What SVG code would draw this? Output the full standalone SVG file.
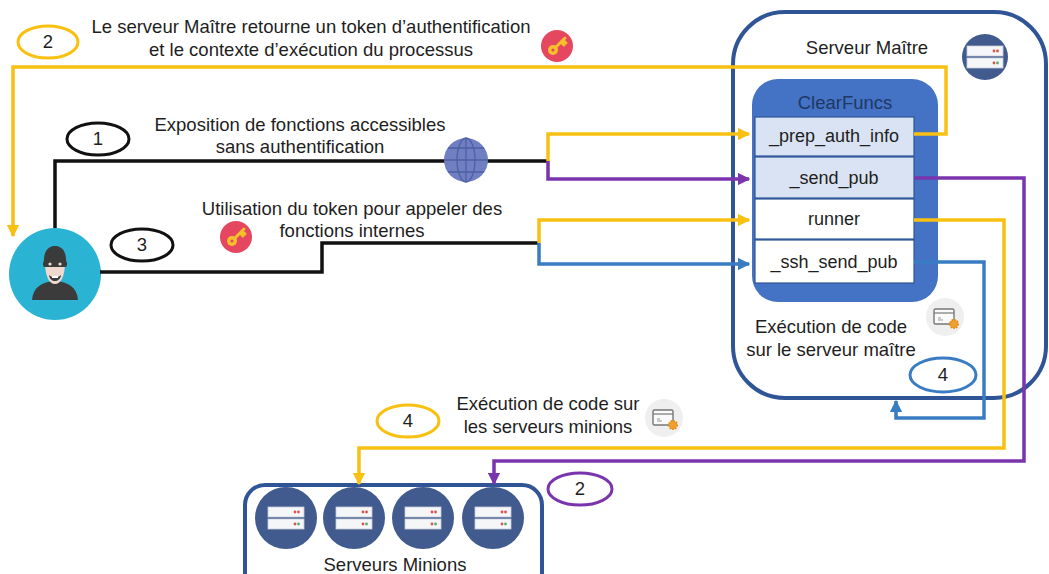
<svg xmlns="http://www.w3.org/2000/svg" width="1049" height="574" viewBox="0 0 1049 574">
  <style>
    .t { font-family: "Liberation Sans", "Open Sans", sans-serif; font-size: 18.5px; fill: #1e1e1e; text-anchor: middle; }
    .rowt { font-size: 18px; }
    .box { fill: none; stroke: #2f5597; stroke-width: 4; }
    .row { stroke: #2f5597; stroke-width: 1.2; }
    .ln { fill: none; stroke-width: 3.5; stroke-linejoin: miter; }
    .yel { stroke: #f8c010; }
    .pur { stroke: #7a35ad; }
    .blu { stroke: #3a7cc3; }
    .blk { stroke: #111; }
    .ell { fill: #fff; stroke-width: 3; }
    .srv { fill: #415b8f; }
    .srvpanel { fill: #f4f6f8; stroke: #c9ced6; stroke-width: 0.8; }
    .codebg { fill: #efefef; }
  </style>
  <defs>
    <marker id="aY" viewBox="0 0 10 10" refX="9" refY="5" markerWidth="3.6" markerHeight="3.6" orient="auto"><path d="M0,0 L10,5 L0,10 z" fill="#f8c010"/></marker>
    <marker id="aP" viewBox="0 0 10 10" refX="9" refY="5" markerWidth="3.6" markerHeight="3.6" orient="auto"><path d="M0,0 L10,5 L0,10 z" fill="#7a35ad"/></marker>
    <marker id="aB" viewBox="0 0 10 10" refX="9" refY="5" markerWidth="3.6" markerHeight="3.6" orient="auto"><path d="M0,0 L10,5 L0,10 z" fill="#3a7cc3"/></marker>
    <!-- rack server glyph -->
    <g id="server">
      <rect x="-18" y="-11" width="36" height="10" class="srvpanel"/>
      <rect x="-18" y="1" width="36" height="10" class="srvpanel"/>
      <circle cx="9" cy="-6" r="1.4" fill="#e05050"/>
      <circle cx="12.5" cy="-6" r="1.4" fill="#e05050"/>
      <circle cx="9" cy="6" r="1.4" fill="#e05050"/>
      <circle cx="12.5" cy="6" r="1.4" fill="#50b070"/>
    </g>
    <!-- key badge -->
    <g id="key">
      <circle r="16" fill="#e4475f"/>
      <circle cx="-4" cy="4" r="5" fill="#f6c02a"/>
      <path d="M-1,1 L8,-8 M4,-4 L7,-1 M6,-6 L9,-3" stroke="#f6c02a" stroke-width="3" fill="none" stroke-linecap="round"/>
      <circle cx="-4" cy="4" r="1.6" fill="#e4475f"/>
    </g>
    <!-- code window with gear -->
    <g id="code">
      <circle r="19" class="codebg"/>
      <rect x="-11" y="-8" width="20" height="15" rx="1.5" fill="#fafafa" stroke="#777" stroke-width="1.4"/>
      <line x1="-11" y1="-4" x2="9" y2="-4" stroke="#777" stroke-width="1.2"/>
      <path d="M-7,1 h3 M-7,3 h5" stroke="#999" stroke-width="1"/>
      <circle cx="9" cy="7" r="4.2" fill="#f0a030" stroke="#e48a10" stroke-width="1.6" stroke-dasharray="1.6 1.2"/>
    </g>
  </defs>

  <!-- Serveur Maître container -->
  <g id="serveur-maitre">
    <rect x="733" y="12" width="313" height="386" rx="52" class="box"/>
    <text x="867" y="54" class="t">Serveur Maître</text>
    <circle cx="985" cy="57" r="23" class="srv"/>
    <use href="#server" x="985" y="57"/>
    <use href="#code" x="945" y="317"/>
    <text x="831" y="333" class="t">Exécution de code</text>
    <text x="831" y="356" class="t">sur le serveur maître</text>
  </g>

  <!-- ClearFuncs block -->
  <g id="clearfuncs">
    <rect x="752" y="79" width="186" height="223" rx="26" fill="#4472c4"/>
    <text x="845" y="109" class="t" style="fill:#1f3864">ClearFuncs</text>
    <rect x="755" y="117" width="159" height="39" fill="#dae3f3" class="row"/>
    <rect x="755" y="157" width="159" height="41" fill="#dae3f3" class="row"/>
    <rect x="755" y="199" width="159" height="40" fill="#ffffff" class="row"/>
    <rect x="755" y="240" width="159" height="43" fill="#ffffff" class="row"/>
    <text x="834" y="142" class="t rowt">_prep_auth_info</text>
    <text x="834" y="184" class="t rowt">_send_pub</text>
    <text x="834" y="225" class="t rowt">runner</text>
    <text x="834" y="268" class="t rowt">_ssh_send_pub</text>
  </g>

  <!-- Serveurs Minions container -->
  <g id="serveurs-minions">
    <rect x="245" y="485" width="297" height="110" rx="20" class="box"/>
    <circle cx="286" cy="518" r="31" class="srv"/>
    <use href="#server" x="286" y="518"/>
    <circle cx="354" cy="518" r="31" class="srv"/>
    <use href="#server" x="354" y="518"/>
    <circle cx="423" cy="518" r="31" class="srv"/>
    <use href="#server" x="423" y="518"/>
    <circle cx="493" cy="518" r="31" class="srv"/>
    <use href="#server" x="493" y="518"/>
    <text x="395" y="571" class="t">Serveurs Minions</text>
  </g>

  <!-- Attacker -->
  <g id="attaquant">
    <circle cx="55" cy="274" r="46" fill="#2bb3d4"/>
    <path d="M32,300 C33,287 42,282 55,281 C68,282 77,287 78,300 Z" fill="#3b3b3b"/>
    <path d="M45,262 C45,276 49,284 55,284 C61,284 65,276 65,262 Z" fill="#efd9cf"/>
    <path d="M44,264 C43,250 49,246 55,246 C61,246 67,250 66,264 Z" fill="#3b3b3b"/>
    <rect x="43" y="261" width="24" height="6" rx="2" fill="#3b3b3b"/>
    <circle cx="50" cy="264" r="1.6" fill="#efd9cf"/>
    <circle cx="60" cy="264" r="1.6" fill="#efd9cf"/>
    <path d="M49,275 C50,283 60,283 61,275 C58,278 52,278 49,275 Z" fill="#3b3b3b"/>
    <rect x="52" y="276" width="6" height="2" fill="#fff"/>
  </g>

  <!-- Connectors -->
  <g id="connectors">
    <!-- 1: public functions -->
    <path d="M55,228 V161 H548" class="ln blk"/>
    <path d="M548,161 V134 H749" class="ln yel" marker-end="url(#aY)"/>
    <path d="M548,161 V179 H749" class="ln pur" marker-end="url(#aP)"/>
    <!-- 2: token returned -->
    <path d="M914,134 H946 V67 H13 V236" class="ln yel" marker-end="url(#aY)"/>
    <!-- 3: token used for internal calls -->
    <path d="M100,272 H322 V243 H539" class="ln blk"/>
    <path d="M539,243 V220 H749" class="ln yel" marker-end="url(#aY)"/>
    <path d="M539,243 V264 H749" class="ln blu" marker-end="url(#aB)"/>
    <!-- 2: purple to minions -->
    <path d="M914,178 H1024 V461 H494 V484" class="ln pur" marker-end="url(#aP)"/>
    <!-- 4: yellow to minions -->
    <path d="M914,220 H1004 V448 H359 V484" class="ln yel" marker-end="url(#aY)"/>
    <!-- 4: blue loop back onto master -->
    <path d="M914,262 H984 V418 H896 V401" class="ln blu" marker-end="url(#aB)"/>
  </g>

  <!-- Globe on path 1 -->
  <g id="globe">
    <circle cx="466" cy="160" r="22" fill="#6f7fc2"/>
    <g fill="none" stroke="#4f5fa4" stroke-width="1.3">
      <ellipse cx="466" cy="160" rx="9" ry="22"/>
      <line x1="466" y1="138" x2="466" y2="182"/>
      <line x1="444" y1="160" x2="488" y2="160"/>
      <path d="M448,148 H484 M448,172 H484"/>
    </g>
  </g>

  <!-- Step labels -->
  <g id="step-2-token">
    <ellipse cx="48" cy="42" rx="30" ry="16" class="ell yel"/>
    <text x="48" y="48" class="t">2</text>
    <text x="311" y="33" class="t">Le serveur Maître retourne un token d’authentification</text>
    <text x="311" y="56" class="t">et le contexte d’exécution du processus</text>
    <use href="#key" x="557" y="46"/>
  </g>
  <g id="step-1">
    <ellipse cx="98" cy="139" rx="31" ry="16" class="ell blk"/>
    <text x="98" y="145" class="t">1</text>
    <text x="300" y="131" class="t">Exposition de fonctions accessibles</text>
    <text x="300" y="153" class="t">sans authentification</text>
  </g>
  <g id="step-3">
    <ellipse cx="142" cy="245" rx="31" ry="16" class="ell blk"/>
    <text x="142" y="251" class="t">3</text>
    <text x="352" y="215" class="t">Utilisation du token pour appeler des</text>
    <text x="352" y="237" class="t">fonctions internes</text>
    <use href="#key" x="236" y="237"/>
  </g>
  <g id="step-4-master">
    <ellipse cx="943" cy="375" rx="33" ry="17" class="ell blu"/>
    <text x="943" y="381" class="t">4</text>
  </g>
  <g id="step-4-minions">
    <ellipse cx="408" cy="421" rx="31" ry="16" class="ell yel"/>
    <text x="408" y="427" class="t">4</text>
    <text x="548" y="410" class="t">Exécution de code sur</text>
    <text x="548" y="433" class="t">les serveurs minions</text>
    <use href="#code" x="664" y="418"/>
  </g>
  <g id="step-2-minions">
    <ellipse cx="580" cy="489" rx="32" ry="16" class="ell pur"/>
    <text x="580" y="495" class="t">2</text>
  </g>
</svg>
